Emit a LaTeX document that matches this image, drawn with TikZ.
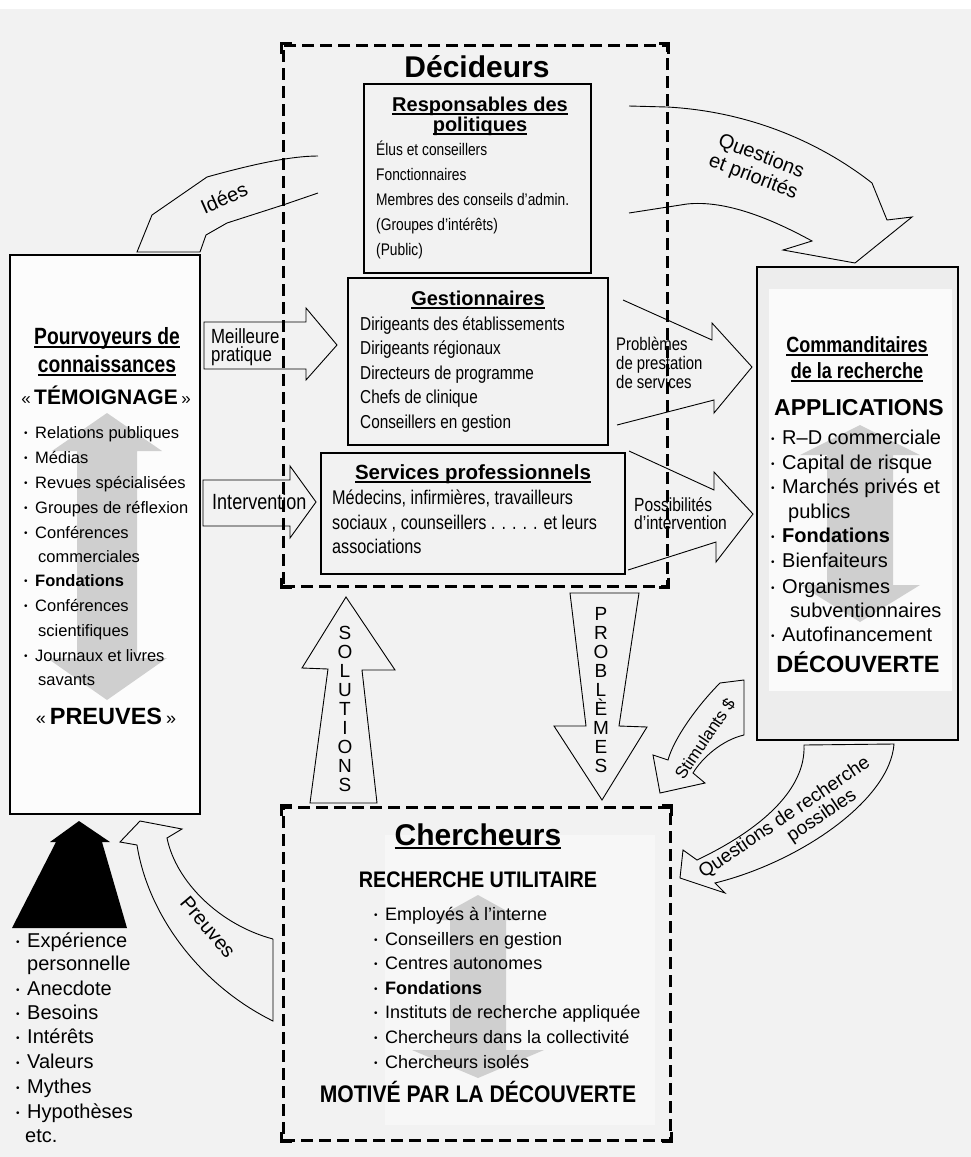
\documentclass[tikz,border=0pt]{standalone}
\usepackage{fontspec}
\usepackage{graphicx}
\usetikzlibrary{fit}
\setmainfont{Liberation Sans}
\newfontfamily\narrowfont[FakeStretch=0.82]{Liberation Sans}
\newfontfamily\semifont[FakeStretch=0.88]{Liberation Sans}
\newfontfamily\condfont[FakeStretch=0.82]{Liberation Sans}
\newcommand\setfs[1]{\fontsize{#1}{#1}\selectfont}
\newcommand\bul{\makebox[11pt][l]{\raisebox{1.6pt}{\setfs{10}\textbullet}}}
\newcommand\ulbar[1]{\setbox0\hbox{#1}\rlap{\rule[-3.5pt]{\wd0}{1.3pt}}\box0}
% stacked lines with a fixed pitch; the box baseline is the first line's baseline
\newcommand\stackL[2]{\vtop{\baselineskip=#1\lineskiplimit=-\maxdimen\halign{##\hfil\cr#2\crcr}}}
\newcommand\stackC[2]{\vtop{\baselineskip=#1\lineskiplimit=-\maxdimen\halign{\hfil##\hfil\cr#2\crcr}}}
% light double-headed arrow behind a list:
% centre x, shaft half-width, top head half-width, top apex, top base, bottom base, bottom apex, bottom head half-width
\newcommand\dblarrow[8]{\fill[black!19] ({#1-#2},#5) -- ({#1-#3},#5) -- (#1,#4) -- ({#1+#3},#5) -- ({#1+#2},#5)
  -- ({#1+#2},#6) -- ({#1+#8},#6) -- (#1,#7) -- ({#1-#8},#6) -- ({#1-#2},#6) -- cycle;}

\begin{document}
\begin{tikzpicture}[x=1pt,y=-1pt,
  solidbox/.style={draw, line width=1.3pt, inner sep=0pt},
  dashbox/.style={draw, line width=3pt, dash pattern=on 12pt off 6pt, inner sep=0pt},
  blockarrow/.style={draw, line width=0.9pt, line join=miter},
  item/.style={anchor=base west, inner sep=0pt},
  title/.style={anchor=base, inner sep=0pt},
  lab/.style={inner sep=0pt, font=\setfs{20}},
]
\useasboundingbox (0,0) rectangle (971,1157);
\fill[black!5] (0,0) rectangle (971,1157);
\fill[white] (0,0) rectangle (971,9);

% ---------- solid boxes ----------
\node[solidbox, fill=black!1, fit={(10,255)(200,814)}] (prov) {};
\node[solidbox, fill=black!7, fit={(757,267)(958,740)}] (spons) {};
\fill[black!2] (769,289) rectangle (952,691);
\node[solidbox, fit={(364,84)(591,273)}] (pol) {};
\node[solidbox, fit={(348,278)(608,445)}] (mgr) {};
\node[solidbox, fit={(321,453)(625,574)}] (prof) {};
\fill[black!3] (385,835) rectangle (655,1125);

% ---------- light arrows behind the lists ----------
\dblarrow{107}{30}{55}{413}{451}{658}{700}{60}
\dblarrow{860}{33}{60}{425}{455}{585}{622}{60}
\dblarrow{478}{28}{45}{895}{920}{1050}{1078}{66}

% ---------- Décideurs ----------
\node[title, font=\bfseries\setfs{30}] (decT) at (477,77) {Décideurs};
\node[title, font=\bfseries\setfs{20}] (polT) at (480,111)
  {\stackC{20pt}{\ulbar{Responsables des}\cr\ulbar{politiques}}};
\foreach \yy/\itm [count=\i] in {155/{Élus et conseillers},180/{Fonctionnaires},
  205/{Membres des conseils d’admin.},230/{(Groupes d’intérêts)},255/{(Public)}}
  \node[item, font=\narrowfont\setfs{16.8}] (pol\i) at (376,\yy) {\itm};

\node[title, font=\bfseries\setfs{20}] (mgrT) at (478,305) {\ulbar{Gestionnaires}};
\foreach \yy/\itm [count=\i] in {330/{Dirigeants des établissements},354/{Dirigeants régionaux},
  379/{Directeurs de programme},403/{Chefs de clinique},428/{Conseillers en gestion}}
  \node[item, font=\narrowfont\setfs{18.7}] (mgr\i) at (360,\yy) {\itm};

\node[title, font=\bfseries\setfs{20.5}] (profT) at (473,479) {\ulbar{Services professionnels}};
\foreach \yy/\itm [count=\i] in {504/{Médecins, infirmières, travailleurs},
  529/{sociaux , counseillers . . . . . et leurs},553/{associations}}
  \node[item, font=\narrowfont\setfs{19.8}] (prof\i) at (332,\yy) {\itm};

% ---------- Pourvoyeurs de connaissances ----------
\node[title, font=\condfont\bfseries\setfs{23.5}] (provT1) at (107,344) {\ulbar{Pourvoyeurs de}};
\node[title, font=\condfont\bfseries\setfs{23.5}] (provT2) at (107,372) {\ulbar{connaissances}};
\node[title, font=\bfseries\setfs{21}] (testim) at (106,404) {{\mdseries\setfs{17}«}\,TÉMOIGNAGE\,{\mdseries\setfs{17}»}};
\foreach \yy/\itm [count=\i] in {438/{\bul Relations publiques},463/{\bul Médias},
  488/{\bul Revues spécialisées},513/{\bul Groupes de réflexion},538/{\bul Conférences},
  562/{\hspace*{14pt}commerciales},586/{\bul\textbf{Fondations}},611/{\bul Conférences},
  636/{\hspace*{14pt}scientifiques},661/{\bul Journaux et livres},685/{\hspace*{14pt}savants}}
  \node[item, font=\setfs{16.5}] (prov\i) at (24,\yy) {\itm};
\node[title, font=\bfseries\setfs{23.5}] (proof) at (106,724) {{\mdseries\setfs{18}«}\,PREUVES\,{\mdseries\setfs{18}»}};

% ---------- Commanditaires de la recherche ----------
\node[title, font=\condfont\bfseries\setfs{22}] (sponsT1) at (857,352) {\ulbar{Commanditaires}};
\node[title, font=\condfont\bfseries\setfs{22}] (sponsT2) at (857,378) {\ulbar{de la recherche}};
\node[title, font=\bfseries\setfs{23}] (appl) at (859,415) {APPLICATIONS};
\foreach \yy/\itm [count=\i] in {444/{\bul R–D commerciale},469/{\bul Capital de risque},
  493/{\bul Marchés privés et},518/{\hspace*{17pt}publics},542/{\bul\textbf{Fondations}},
  567/{\bul Bienfaiteurs},593/{\bul Organismes},617/{\hspace*{19pt}subventionnaires},
  641/{\bul Autofinancement}}
  \node[item, font=\setfs{20}] (spons\i) at (771,\yy) {\itm};
\node[title, font=\bfseries\setfs{23.5}] (disc) at (858,672) {DÉCOUVERTE};

% ---------- Chercheurs ----------
\node[title, font=\bfseries\setfs{30}] (resT) at (478,845) {\ulbar{Chercheurs}};
\node[title, font=\semifont\bfseries\setfs{22.5}] (util) at (478,887) {RECHERCHE UTILITAIRE};
\foreach \yy/\itm [count=\i] in {920/{\bul Employés à l’interne},945/{\bul Conseillers en gestion},
  969/{\bul Centres autonomes},994/{\bul\textbf{Fondations}},1018/{\bul Instituts de recherche appliquée},
  1043/{\bul Chercheurs dans la collectivité},1068/{\bul Chercheurs isolés}}
  \node[item, font=\setfs{18}] (res\i) at (374,\yy) {\itm};
\node[title, font=\semifont\bfseries\setfs{24}] (motiv) at (478,1102) {MOTIVÉ PAR LA DÉCOUVERTE};

% ---------- personal sources ----------
\fill[black] (12,928) -- (56,842) -- (50,842) -- (79,821) -- (110,842) -- (102,842) -- (127,928) -- cycle;
\foreach \yy/\itm [count=\i] in {947/{\bul Expérience},970/{\hspace*{11pt}personnelle},995/{\bul Anecdote},
  1019/{\bul Besoins},1043/{\bul Intérêts},1068/{\bul Valeurs},1093/{\bul Mythes},
  1118/{\bul Hypothèses},1142/{\hspace*{9pt}etc.}}
  \node[item, font=\setfs{20}] (pers\i) at (16,\yy) {\itm};

% ---------- block arrows ----------
% Idées
\draw[blockarrow] (318,156) .. controls (290,156) and (250,165) .. (207,177) -- (152,215) -- (137,252)
  -- (200,252) -- (206,235) -- (227,223) -- (283,205) -- (318,193);
\node[lab, rotate=24] (ideas) at (224,198) {Idées};
% Questions et priorités
\draw[blockarrow] (629,106) -- (667,107) .. controls (760,112) and (830,150) .. (872,183) -- (887,220)
  -- (912,217) -- (855,263) -- (783,250) -- (812,241) .. controls (770,218) and (725,200) .. (687,204) -- (629,213);
\node[lab, rotate=-21] (quest) at (757,167) {\stackC{22pt}{Questions\cr et priorités}};
% Meilleure pratique
\draw[blockarrow] (204,322) -- (306,322) -- (306,308) -- (337,345) -- (306,380) -- (306,369) -- (204,369) -- cycle;
\node[item, font=\narrowfont\setfs{20.5}] (best) at (211,343) {\stackL{18pt}{Meilleure\cr pratique}};
% Intervention
\draw[blockarrow] (203,480) -- (290,480) -- (290,466) -- (316,502) -- (290,538) -- (290,526) -- (203,526) -- cycle;
\node[item, font=\narrowfont\setfs{22}] (interv) at (212,509) {Intervention};
% Problèmes de prestation de services
\draw[blockarrow] (623,300) -- (712,340) -- (712,323) -- (752,367) -- (714,413) -- (714,400) -- (617,425);
\node[item, font=\narrowfont\setfs{18.2}] (deliv) at (616,350) {\stackL{19pt}{Problèmes\cr de prestation\cr de services}};
% Possibilités d'intervention
\draw[blockarrow] (629,451) -- (714,490) -- (714,472) -- (753,514) -- (716,562) -- (716,542) -- (628,570);
\node[item, font=\narrowfont\setfs{19}] (poss) at (634,511) {\stackL{18pt}{Possibilités\cr d’intervention}};
% SOLUTIONS
\draw[blockarrow] (310,803) -- (328,669) -- (302,668) -- (346,597) -- (395,670) -- (362,670) -- (377,803) -- cycle;
\node[title, font=\setfs{19}] (sol) at (345,639) {\stackC{19pt}{S\cr O\cr L\cr U\cr T\cr I\cr O\cr N\cr S}};
% PROBLÈMES
\draw[blockarrow] (570,593) -- (586,726) -- (554,726) -- (602,800) -- (647,727) -- (619,726) -- (639,593) -- cycle;
\node[title, font=\setfs{19}] (prb) at (601,620) {\stackC{19pt}{P\cr R\cr O\cr B\cr L\cr È\cr M\cr E\cr S}};
% Stimulants $
\draw[blockarrow] (720,683) -- (744,680) -- (744,735) .. controls (722,740) and (702,758) .. (693,773)
  -- (705,783) -- (660,793) -- (653,755) -- (668,760) .. controls (674,738) and (698,705) .. (720,683) -- cycle;
\node[lab, font=\setfs{17}, rotate=56] (incent) at (705,739) {Stimulants \$};
% Questions de recherche possibles
\draw[blockarrow] (804,745) -- (894,744) .. controls (890,800) and (800,862) .. (715,883) -- (725,893)
  -- (680,878) -- (683,850) -- (697,860) .. controls (760,830) and (806,790) .. (804,745) -- cycle;
\node[lab, font=\setfs{19}, rotate=34] (rq) at (790,826)
  {\stackC{19pt}{Questions de recherche\cr\hspace*{64pt}possibles}};
% Preuves
\draw[blockarrow] (273,939) -- (273,1021) .. controls (200,985) and (148,915) .. (137,845) -- (120,842)
  -- (140,821) -- (182,829) -- (167,838) .. controls (176,882) and (220,925) .. (273,939);
\node[lab, rotate=-50] (evid) at (208,927) {Preuves};

% ---------- dashed groups ----------
\node[dashbox, fit={(283,45)(667,586)}] (dec) {};
\node[dashbox, fit={(283,807)(670,1140)}] (res) {};
\foreach \n in {dec,res}{
  \draw[line width=3pt] ([yshift=-10pt]\n.north west) -- (\n.north west) -- ([xshift=10pt]\n.north west);
  \draw[line width=3pt] ([yshift=-10pt]\n.north east) -- (\n.north east) -- ([xshift=-10pt]\n.north east);
  \draw[line width=3pt] ([yshift=10pt]\n.south west) -- (\n.south west) -- ([xshift=10pt]\n.south west);
  \draw[line width=3pt] ([yshift=10pt]\n.south east) -- (\n.south east) -- ([xshift=-10pt]\n.south east);
}
\end{tikzpicture}
\end{document}
